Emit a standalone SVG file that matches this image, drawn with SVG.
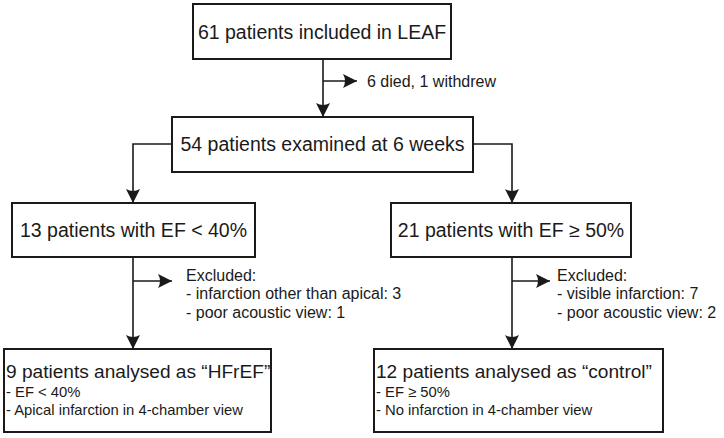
<svg xmlns="http://www.w3.org/2000/svg" width="724" height="438" viewBox="0 0 724 438">
  <style>
    .box { fill: #ffffff; stroke: #1a1a1a; stroke-width: 2; }
    .ln { fill: none; stroke: #1a1a1a; stroke-width: 1.6; }
    .t { font-family: "Liberation Sans", Arial, sans-serif; fill: #1a1a1a; }
    .main { font-size: 19.5px; }
    .title { font-size: 19.1px; }
    .side { font-size: 16px; }
    .sub { font-size: 14.8px; }
  </style>
  <defs>
    <marker id="arr" markerUnits="userSpaceOnUse" markerWidth="16" markerHeight="16" refX="14" refY="7" orient="auto">
      <path d="M0,0 L14,7 L0,14 Q4,7 0,0 Z" fill="#1a1a1a"/>
    </marker>
  </defs>
  <g id="connectors">
    <path class="ln" d="M323,59 V117" marker-end="url(#arr)"/>
    <path class="ln" d="M323,81 H357" marker-end="url(#arr)"/>
    <path class="ln" d="M172,144 H133 V203" marker-end="url(#arr)"/>
    <path class="ln" d="M473,144 H512 V203" marker-end="url(#arr)"/>
    <path class="ln" d="M133,257 V349" marker-end="url(#arr)"/>
    <path class="ln" d="M133,281 H172" marker-end="url(#arr)"/>
    <path class="ln" d="M512,257 V349" marker-end="url(#arr)"/>
    <path class="ln" d="M512,281 H550" marker-end="url(#arr)"/>
  </g>
  <g id="n1">
    <rect class="box" x="193" y="4" width="258" height="55"/>
    <text class="t main" x="322" y="38.5" text-anchor="middle">61 patients included in LEAF</text>
  </g>
  <g id="exit1">
    <text class="t side" x="367" y="86.5">6 died, 1 withdrew</text>
  </g>
  <g id="n2">
    <rect class="box" x="172" y="117" width="301" height="55"/>
    <text class="t main" x="322.5" y="151" text-anchor="middle">54 patients examined at 6 weeks</text>
  </g>
  <g id="n3">
    <rect class="box" x="12" y="203" width="243" height="54"/>
    <text class="t main" x="133.5" y="237" text-anchor="middle">13 patients with EF &lt; 40%</text>
  </g>
  <g id="n4">
    <rect class="box" x="391" y="203" width="240" height="54"/>
    <text class="t main" x="511" y="237" text-anchor="middle">21 patients with EF ≥ 50%</text>
  </g>
  <g id="exit3">
    <text class="t side" x="186" y="281">Excluded:</text>
    <text class="t side" x="186" y="299">- infarction other than apical: 3</text>
    <text class="t side" x="186" y="318">- poor acoustic view: 1</text>
  </g>
  <g id="exit4">
    <text class="t side" x="557" y="281">Excluded:</text>
    <text class="t side" x="557" y="299">- visible infarction: 7</text>
    <text class="t side" x="557" y="318">- poor acoustic view: 2</text>
  </g>
  <g id="n5">
    <rect class="box" x="4" y="349" width="267" height="83"/>
    <text class="t title" x="6" y="378">9 patients analysed as “HFrEF”</text>
    <text class="t sub" x="6" y="397">- EF &lt; 40%</text>
    <text class="t sub" x="6" y="415">- Apical infarction in 4-chamber view</text>
  </g>
  <g id="n6">
    <rect class="box" x="374" y="349" width="289" height="83"/>
    <text class="t title" x="376" y="378">12 patients analysed as “control”</text>
    <text class="t sub" x="376" y="397">- EF ≥ 50%</text>
    <text class="t sub" x="376" y="415">- No infarction in 4-chamber view</text>
  </g>
</svg>
